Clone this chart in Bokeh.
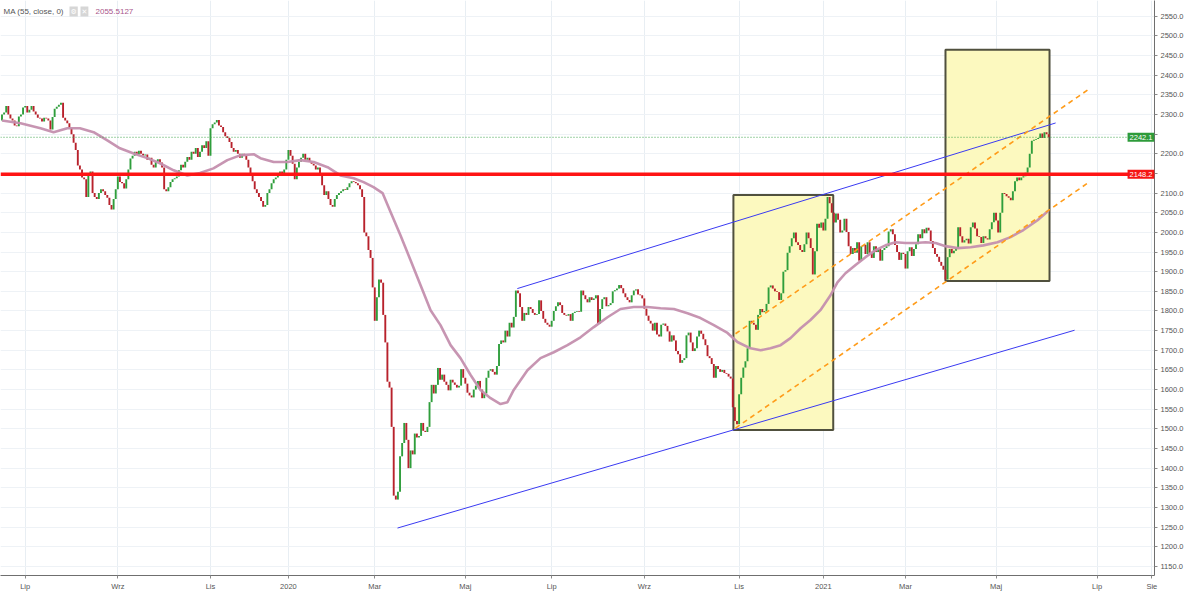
from bokeh.plotting import figure
from bokeh.models import Range1d, FixedTicker, Label, Span, PrintfTickFormatter, ColumnDataSource
from bokeh.embed import file_html
from bokeh.resources import INLINE

# ---------------- data ----------------
# daily closes, one per trading session (bar index 0 .. 497)
closes = [
    2300, 2305, 2322, 2300, 2290, 2285, 2272, 2270, 2295, 2300,
    2318, 2322, 2305, 2312, 2322, 2308, 2300, 2292, 2290, 2282,
    2292, 2290, 2285, 2262, 2294, 2315, 2320, 2325, 2330, 2292,
    2285, 2278, 2266, 2250, 2228, 2210, 2170, 2160, 2140, 2135,
    2090, 2145, 2155, 2100, 2090, 2085, 2100, 2110, 2105, 2095,
    2088, 2070, 2058, 2085, 2110, 2142, 2128, 2125, 2112, 2135,
    2160, 2188, 2195, 2205, 2198, 2208, 2200, 2196, 2198, 2185,
    2190, 2172, 2165, 2180, 2186, 2178, 2165, 2110, 2105, 2115,
    2128, 2135, 2138, 2142, 2158, 2172, 2165, 2180, 2192, 2185,
    2205, 2200, 2215, 2192, 2205, 2222, 2215, 2232, 2195, 2265,
    2275, 2280, 2286, 2272, 2268, 2255, 2245, 2240, 2230, 2215,
    2205, 2210, 2200, 2190, 2200, 2195, 2185, 2165, 2150, 2130,
    2110, 2100, 2090, 2080, 2065, 2070, 2100, 2110, 2125, 2135,
    2140, 2145, 2155, 2150, 2160, 2185, 2210, 2195, 2175, 2135,
    2165, 2180, 2190, 2200, 2185, 2190, 2180, 2175, 2170, 2160,
    2165, 2150, 2120, 2095, 2105, 2085, 2070, 2065, 2085, 2095,
    2100, 2105, 2110, 2108, 2115, 2125, 2130, 2128, 2125, 2120,
    2110, 2090, 2000, 1990, 1955, 1935, 1860, 1775, 1835, 1880,
    1872, 1790, 1720, 1620, 1605, 1505, 1330, 1320, 1340, 1430,
    1464, 1515, 1472, 1400, 1445, 1435, 1488, 1478, 1482, 1515,
    1495, 1492, 1505, 1568, 1612, 1590, 1612, 1655, 1625, 1638,
    1620, 1612, 1598, 1625, 1618, 1612, 1605, 1610, 1652, 1630,
    1615, 1592, 1585, 1580, 1600, 1610, 1622, 1600, 1578, 1590,
    1630, 1648, 1652, 1645, 1638, 1660, 1716, 1725, 1720, 1750,
    1735, 1770, 1758, 1785, 1852, 1845, 1810, 1775, 1795, 1790,
    1810, 1805, 1795, 1790, 1792, 1827, 1800, 1780, 1770, 1765,
    1760, 1775, 1800, 1812, 1822, 1815, 1795, 1790, 1788, 1792,
    1775, 1795, 1798, 1800, 1798, 1852, 1840, 1830, 1822, 1835,
    1828, 1832, 1840, 1768, 1805, 1830, 1835, 1812, 1815, 1820,
    1850, 1853, 1857, 1866, 1858, 1845, 1835, 1828, 1822, 1840,
    1852, 1855, 1842, 1840, 1832, 1806, 1788, 1775, 1768, 1750,
    1770, 1740, 1735, 1765, 1768, 1762, 1748, 1722, 1738, 1725,
    1698, 1690, 1668, 1675, 1680, 1738, 1745, 1720, 1698, 1705,
    1735, 1750, 1742, 1728, 1713, 1685, 1680, 1665, 1630, 1660,
    1652, 1645, 1650, 1642, 1640, 1633, 1628, 1555, 1520, 1512,
    1588, 1630, 1656, 1672, 1705, 1775, 1770, 1765, 1752, 1790,
    1805, 1797, 1800, 1818, 1860, 1865, 1857, 1850, 1848, 1828,
    1845, 1900, 1904, 1948, 1965, 1985, 2000, 1975, 1968, 1955,
    1950, 1970, 2000, 1985, 1960, 1893, 1952, 2022, 2012, 2025,
    2005, 2035, 2090, 2074, 2050, 2025, 2048, 2032, 2000, 2005,
    2035, 2001, 1965, 1945, 1960, 1948, 1975, 1928, 1965, 1968,
    1945, 1975, 1948, 1935, 1965, 1950, 1958, 1928, 1955, 1960,
    1965, 2002, 2008, 1995, 1968, 1950, 1930, 1948, 1945, 1908,
    1952, 1962, 1940, 1958, 1970, 1995, 1985, 2008, 1998, 2012,
    2005, 1978, 1960, 1945, 1938, 1925, 1915, 1905, 1880, 1937,
    1958, 1947, 1953, 1960, 2013, 1990, 1974, 1980, 1984, 1972,
    2013, 2025, 2010, 1990, 1988, 1973, 1990, 1985, 1982, 2008,
    2026, 2050, 2030, 2000, 2050, 2100, 2098, 2092, 2088, 2082,
    2105, 2130, 2140, 2133, 2140, 2143, 2152, 2165, 2200, 2233,
    2236, 2238, 2240, 2252, 2240, 2255, 2250, 2242.1,
]
first_open = 2285.0

# MA(55, close): bar index / value
ma_bar = [0, 8.8, 18.3, 24.5, 31, 37, 43.5, 50, 56, 62.5, 69, 75, 81.5, 88, 94,
          100.4, 107, 113, 119.5, 122.7, 129, 135.6, 141.7, 148, 154.6, 160.7, 167,
          171.7, 176.4, 180.7, 184.5, 189.2, 194, 198.7, 203.5, 208.2, 213, 217.7,
          222.5, 227.2, 232, 236.7, 240, 243, 249.5, 255.7, 262, 268.5, 274.7, 281,
          287.5, 293.7, 300, 306.5, 312.7, 319, 325.5, 331.7, 338, 344.5, 349.2,
          355.4, 360.2, 364.9, 369.7, 374.4, 379.2, 383.9, 388.6, 393.4, 396.7,
          400.5, 405.3, 410, 414.8, 419.5, 424.3, 429, 433.8, 438.5, 443.3, 448,
          453.7, 459.9, 466, 472.7, 478.9, 485, 491.7, 497]
ma_val = [2285, 2278, 2265, 2255, 2265, 2265, 2255, 2234, 2214, 2201, 2189, 2176,
          2158, 2145, 2151, 2163, 2184, 2196, 2199, 2189, 2179, 2179, 2184, 2179,
          2166, 2145, 2138, 2128, 2115, 2100, 2052, 1993, 1929, 1866, 1802, 1764,
          1713, 1680, 1637, 1599, 1578, 1563, 1568, 1599, 1649, 1680, 1695, 1713,
          1733, 1759, 1784, 1805, 1810, 1810, 1807, 1805, 1794, 1782, 1764, 1744,
          1721, 1705, 1700, 1705, 1713, 1731, 1756, 1777, 1802, 1840, 1873, 1896,
          1917, 1937, 1955, 1967, 1975, 1973, 1973, 1975, 1973, 1965, 1960, 1962,
          1967, 1975, 1988, 2006, 2031, 2055.5]

price_ticks = list(range(1100, 2551, 50))
hidden_price_ticks = [2250, 2150]
month_bars = [11, 55, 99, 136, 177, 220, 261, 305, 350, 390, 429, 472, 520, 546]
month_labels = ["Lip", "Wrz", "Lis", "2020", "Mar", "Maj", "Lip", "Wrz", "Lis",
                "2021", "Mar", "Maj", "Lip", "Sie"]

support_level = 2148.2
last_close = 2242.1
ma_last = "2055.5127"
legend_text = "MA (55, close, 0)"

# drawings (bar index / price)
box_left = [347.3, 448.0]
box_right = [394.7, 497.4]
box_top = [2095.0, 2465.0]
box_bottom = [1497.0, 1876.0]

channel_x0 = [244.7, 187.8]
channel_y0 = [1857.0, 1247.5]
channel_x1 = [500.3, 509.3]
channel_y1 = [2278.5, 1751.0]

orange_x0 = [348.3, 348.3]
orange_y0 = [1742.0, 1502.0]
orange_x1 = [515.4, 515.4]
orange_y1 = [2362.0, 2125.0]

# ---------------- layout ----------------
BAR_PX = 2.106      # pixels per bar
BAR0_PX = 1.5       # x of bar 0
PX_PER_PT = 0.3929  # pixels per index point
Y2550_PX = 15.8     # y of 2550
FW, FH = 1154, 575


def px_to_bar(px):
    return (px - BAR0_PX) / BAR_PX


def py_to_price(py):
    return 2550 - (py - Y2550_PX) / PX_PER_PT


x_start = px_to_bar(0)
x_end = px_to_bar(FW)
y_top = py_to_price(0)
y_bot = py_to_price(FH)

UP = "#2f9e3c"
DOWN = "#b8222c"
FONT = "Liberation Sans"

p = figure(frame_width=FW, frame_height=FH,
           x_range=Range1d(x_start, x_end), y_range=Range1d(y_bot, y_top),
           y_axis_location="right", output_backend="svg", toolbar_location=None,
           min_border=0, min_border_left=0, min_border_right=0,
           min_border_top=0, min_border_bottom=0,
           background_fill_color="white", border_fill_color="white")
p.outline_line_color = None

# axes
yax = p.yaxis[0]
yax.ticker = FixedTicker(ticks=price_ticks)
yax.formatter = PrintfTickFormatter(format="%.1f")
yax.major_label_overrides = {v: "" for v in hidden_price_ticks}
xax = p.xaxis[0]
xax.ticker = FixedTicker(ticks=month_bars)
xax.major_label_overrides = dict(zip(month_bars, month_labels))
for ax in (xax, yax):
    ax.axis_line_color = "#6f6f6f"
    ax.axis_line_width = 1
    ax.major_tick_line_color = "#8a8a8a"
    ax.major_tick_out = 3
    ax.major_tick_in = 0
    ax.minor_tick_line_color = None
    ax.major_label_text_font = FONT
    ax.major_label_text_font_size = "7.5px"
    ax.major_label_text_color = "#555555"
    ax.major_label_standoff = 3

p.xgrid.grid_line_color = "#e8eef3"
p.ygrid.grid_line_color = "#eef2f6"

# highlight boxes
p.quad(left=box_left, right=box_right, top=box_top, bottom=box_bottom,
       fill_color="#fcf9bf", fill_alpha=1.0, line_color="#50503e", line_width=2)

# candles
opens = [first_open] + closes[:-1]
src = ColumnDataSource(dict(
    x=list(range(len(closes))),
    top=[max(o, c) for o, c in zip(opens, closes)],
    bottom=[min(o, c) for o, c in zip(opens, closes)],
    color=[UP if c >= o else DOWN for o, c in zip(opens, closes)],
))
p.vbar(x="x", width=0.9, top="top", bottom="bottom", fill_color="color",
       line_color=None, source=src)

# moving average
p.line(ma_bar, ma_val, line_color="#c48fae", line_width=2.6, line_alpha=0.95)

# trend channel and orange lines
p.segment(x0=channel_x0, y0=channel_y0, x1=channel_x1, y1=channel_y1,
          line_color="#3a3af2", line_width=1)
p.segment(x0=orange_x0, y0=orange_y0, x1=orange_x1, y1=orange_y1,
          line_color="#ff9c1a", line_width=1.6, line_dash="5 4")

# horizontal levels
p.add_layout(Span(location=last_close, dimension="width", line_color="#3fa34d",
                  line_width=1, line_dash="1 2"))
p.add_layout(Span(location=support_level, dimension="width", line_color="#ff1414",
                  line_width=3.5))

# price tags at the right edge
for val, col in ((last_close, "#2e9b3a"), (support_level, "#f51515")):
    p.add_layout(Label(x=x_end, y=val, text=f"{val:.1f}",
                       text_align="right", text_baseline="middle",
                       text_font=FONT, text_font_size="7.5px", text_color="white",
                       background_fill_color=col, padding=2))

# indicator legend
ly = py_to_price(11)
p.add_layout(Label(x=px_to_bar(3), y=ly, text=legend_text, text_align="left",
                   text_baseline="middle", text_font=FONT, text_font_size="8px",
                   text_color="#555555"))
p.add_layout(Label(x=px_to_bar(69), y=ly, text="\u2699", text_align="left",
                   text_baseline="middle", text_font="DejaVu Sans", text_font_size="7px",
                   text_color="white", background_fill_color="#d6d6d6", padding=1))
p.add_layout(Label(x=px_to_bar(80), y=ly, text="\u2715", text_align="left",
                   text_baseline="middle", text_font="DejaVu Sans", text_font_size="7px",
                   text_color="white", background_fill_color="#d6d6d6", padding=1))
p.add_layout(Label(x=px_to_bar(95), y=ly, text=ma_last, text_align="left",
                   text_baseline="middle", text_font=FONT, text_font_size="8px",
                   text_color="#a8558a"))

open("out.html", "w").write(file_html(p, INLINE))
